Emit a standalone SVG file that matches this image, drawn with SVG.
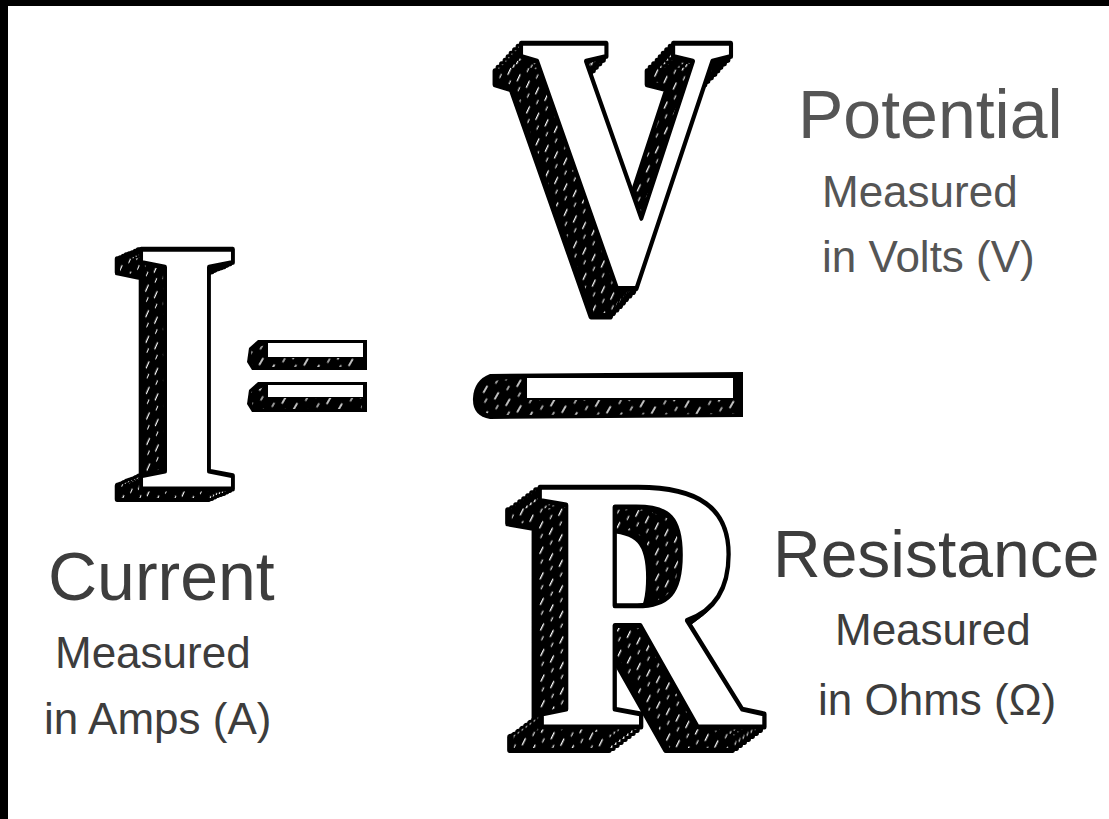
<svg xmlns="http://www.w3.org/2000/svg" xmlns:xlink="http://www.w3.org/1999/xlink" width="1109" height="819" viewBox="0 0 1109 819">
<style>
.lbl{font-family:"Liberation Sans",Arial,sans-serif;}
.big{font-size:68px;}
.small{font-size:44px;}
.g1{fill:#555555;}
.g2{fill:#3d3d3d;}
.glyph{font-family:"Liberation Serif","Times New Roman",serif;font-weight:bold;font-size:366px;text-anchor:middle;}
.sho{fill:#000;stroke:#000;stroke-width:6;stroke-linejoin:round;}
.shh{fill:url(#hatch);stroke:none;}
.front{fill:#fff;stroke:#000;stroke-width:5;stroke-linejoin:round;}
</style>
<defs>
<pattern id="hatch" width="13" height="22" patternUnits="userSpaceOnUse" patternTransform="rotate(30)">
<rect width="13" height="22" fill="#000"/>
<line x1="4" y1="3" x2="4" y2="10" stroke="#fff" stroke-width="1.5" stroke-linecap="round"/>
<line x1="10" y1="14" x2="10" y2="18" stroke="#fff" stroke-width="1.2" stroke-linecap="round"/>
</pattern>
<text id="gI" class="glyph" transform="translate(187,489) scale(0.78,1)">I</text>
<text id="gV" class="glyph" transform="translate(626,283) scale(0.82,1)">V</text>
<text id="gR" class="glyph" transform="translate(648,727) scale(0.86,1)">R</text>
</defs>
<rect x="0" y="0" width="1109" height="819" fill="#000"/>
<rect x="8" y="6" width="1101" height="813" fill="#fff"/>

<g id="letter-I">
<g class="sho">
<use xlink:href="#gI" x="-3" y="1"/><use xlink:href="#gI" x="-6" y="2.5"/><use xlink:href="#gI" x="-9" y="4"/><use xlink:href="#gI" x="-12" y="5"/><use xlink:href="#gI" x="-15" y="6"/><use xlink:href="#gI" x="-18" y="7.5"/><use xlink:href="#gI" x="-21" y="9"/><use xlink:href="#gI" x="-24" y="10"/>
</g>
<g class="shh">
<use xlink:href="#gI" x="-3" y="1"/><use xlink:href="#gI" x="-6" y="2.5"/><use xlink:href="#gI" x="-9" y="4"/><use xlink:href="#gI" x="-12" y="5"/><use xlink:href="#gI" x="-15" y="6"/><use xlink:href="#gI" x="-18" y="7.5"/><use xlink:href="#gI" x="-21" y="9"/>
</g>
<use xlink:href="#gI" class="front"/>
</g>

<g id="equals">
<path d="M258,340 L367,340 L367,370 L252,370 L247,362 L249,348 Z" fill="#000"/>
<path d="M251,350 L267,344 L267,358 L362,358 L362,367 L253,367 Z" fill="url(#hatch)"/>
<rect x="268" y="343" width="95" height="14" fill="#fff"/>
<path d="M258,382 L367,382 L367,412 L252,412 L247,404 L249,390 Z" fill="#000"/>
<path d="M251,392 L267,386 L267,398 L362,398 L362,409 L253,409 Z" fill="url(#hatch)"/>
<rect x="268" y="385" width="95" height="12" fill="#fff"/>
</g>

<g id="letter-V">
<g class="sho">
<use xlink:href="#gV" x="-3" y="3.5"/><use xlink:href="#gV" x="-6.5" y="7"/><use xlink:href="#gV" x="-10" y="10.5"/><use xlink:href="#gV" x="-13" y="14"/><use xlink:href="#gV" x="-16" y="17.5"/><use xlink:href="#gV" x="-19.5" y="21"/><use xlink:href="#gV" x="-23" y="24.5"/><use xlink:href="#gV" x="-26" y="28"/>
</g>
<g class="shh">
<use xlink:href="#gV" x="-3" y="3.5"/><use xlink:href="#gV" x="-6.5" y="7"/><use xlink:href="#gV" x="-10" y="10.5"/><use xlink:href="#gV" x="-13" y="14"/><use xlink:href="#gV" x="-16" y="17.5"/><use xlink:href="#gV" x="-19.5" y="21"/><use xlink:href="#gV" x="-23" y="24.5"/>
</g>
<use xlink:href="#gV" class="front"/>
</g>

<g id="fraction-bar">
<path d="M490,374 L743,372 L743,417 L490,419 Q472,416 473,398 Q474,380 490,374 Z" fill="#000"/>
<path d="M480,392 Q484,382 500,380 L527,378 L527,400 L735,400 L735,414 L492,415 Q480,412 480,400 Z" fill="url(#hatch)"/>
<rect x="527" y="378" width="206" height="20" fill="#fff"/>
</g>

<g id="letter-R">
<g class="sho">
<use xlink:href="#gR" x="-4" y="3"/><use xlink:href="#gR" x="-8" y="6"/><use xlink:href="#gR" x="-12" y="9"/><use xlink:href="#gR" x="-16" y="12"/><use xlink:href="#gR" x="-20" y="15"/><use xlink:href="#gR" x="-24" y="18"/><use xlink:href="#gR" x="-28" y="21"/><use xlink:href="#gR" x="-32" y="23"/>
</g>
<g class="shh">
<use xlink:href="#gR" x="-4" y="3"/><use xlink:href="#gR" x="-8" y="6"/><use xlink:href="#gR" x="-12" y="9"/><use xlink:href="#gR" x="-16" y="12"/><use xlink:href="#gR" x="-20" y="15"/><use xlink:href="#gR" x="-24" y="18"/><use xlink:href="#gR" x="-28" y="21"/>
</g>
<use xlink:href="#gR" class="front"/>
</g>

<g id="label-potential" class="lbl g1">
<text class="big" x="798" y="138">Potential</text>
<text class="small" x="822" y="207">Measured</text>
<text class="small" x="822" y="272">in Volts (V)</text>
</g>
<g id="label-current" class="lbl g2">
<text class="big" x="48" y="600">Current</text>
<text class="small" x="55" y="668">Measured</text>
<text class="small" x="44" y="734">in Amps (A)</text>
</g>
<g id="label-resistance" class="lbl g2">
<text x="773" y="577" style="font-size:66px">Resistance</text>
<text class="small" x="835" y="645">Measured</text>
<text class="small" x="818" y="715">in Ohms (Ω)</text>
</g>
<g id="connectors"/>
</svg>
